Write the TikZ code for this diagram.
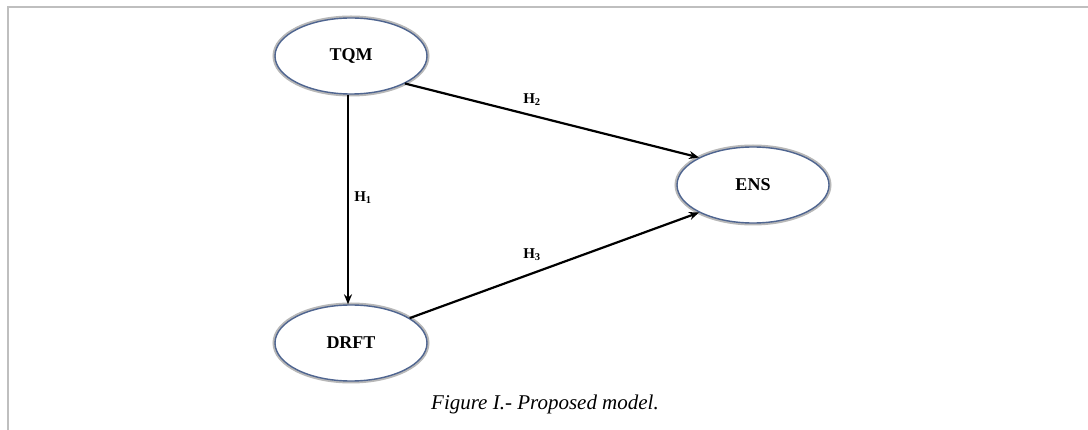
\documentclass[tikz,border=0pt]{standalone}
\usepackage{fontspec}
\setmainfont{Liberation Serif}
\usetikzlibrary{shapes.geometric,arrows.meta}
\definecolor{frame}{HTML}{BFBFBF}
\definecolor{edge}{HTML}{4F6590}
\tikzset{
  construct/.style={ellipse, minimum width=152pt, minimum height=76pt, inner sep=0pt,
    font=\fontsize{18}{20}\selectfont\bfseries},
  shadowring/.style={draw=black!28, line width=5pt},
  ring/.style={draw=edge, line width=1.4pt},
  path/.style={draw=black, line width=2.2pt, -{Stealth[length=10pt,width=8pt]}},
  hyp/.style={font=\fontsize{15}{17}\selectfont\bfseries},
}
\begin{document}
\begin{tikzpicture}[x=1pt,y=-1pt]
\useasboundingbox (0,0) rectangle (1088,430);
\fill[white] (0,0) rectangle (1088,430);
\draw[frame, line width=2.2pt] (8,430) -- (8,7) -- (1088,7);
% shadows
\node[construct, shadowring] at (351,56) {};
\node[construct, shadowring] at (753,185) {};
\node[construct, shadowring] at (351,343) {};
% constructs
\node[construct, ring, fill=white] (tqm) at (351,56) {TQM};
\node[construct, ring, fill=white] (ens) at (753,185) {ENS};
\node[construct, ring, fill=white] (drft) at (351,343) {DRFT};
% paths
\draw[path] (tqm.south -| 348,0) -- (drft.north -| 348,0);
\draw[path] (tqm.-27) -- (ens.153);
\draw[path] (drft.23) -- (ens.207);
% labels
\node[hyp] (h1) at (363,198) {H$_{\mathbf 1}$};
\node[hyp] (h2) at (532,100) {H$_{\mathbf 2}$};
\node[hyp] (h3) at (532,255) {H$_{\mathbf 3}$};
\node[font=\fontsize{21}{23}\selectfont\itshape] (cap) at (545,404) {Figure I.- Proposed model.};
\end{tikzpicture}
\end{document}
